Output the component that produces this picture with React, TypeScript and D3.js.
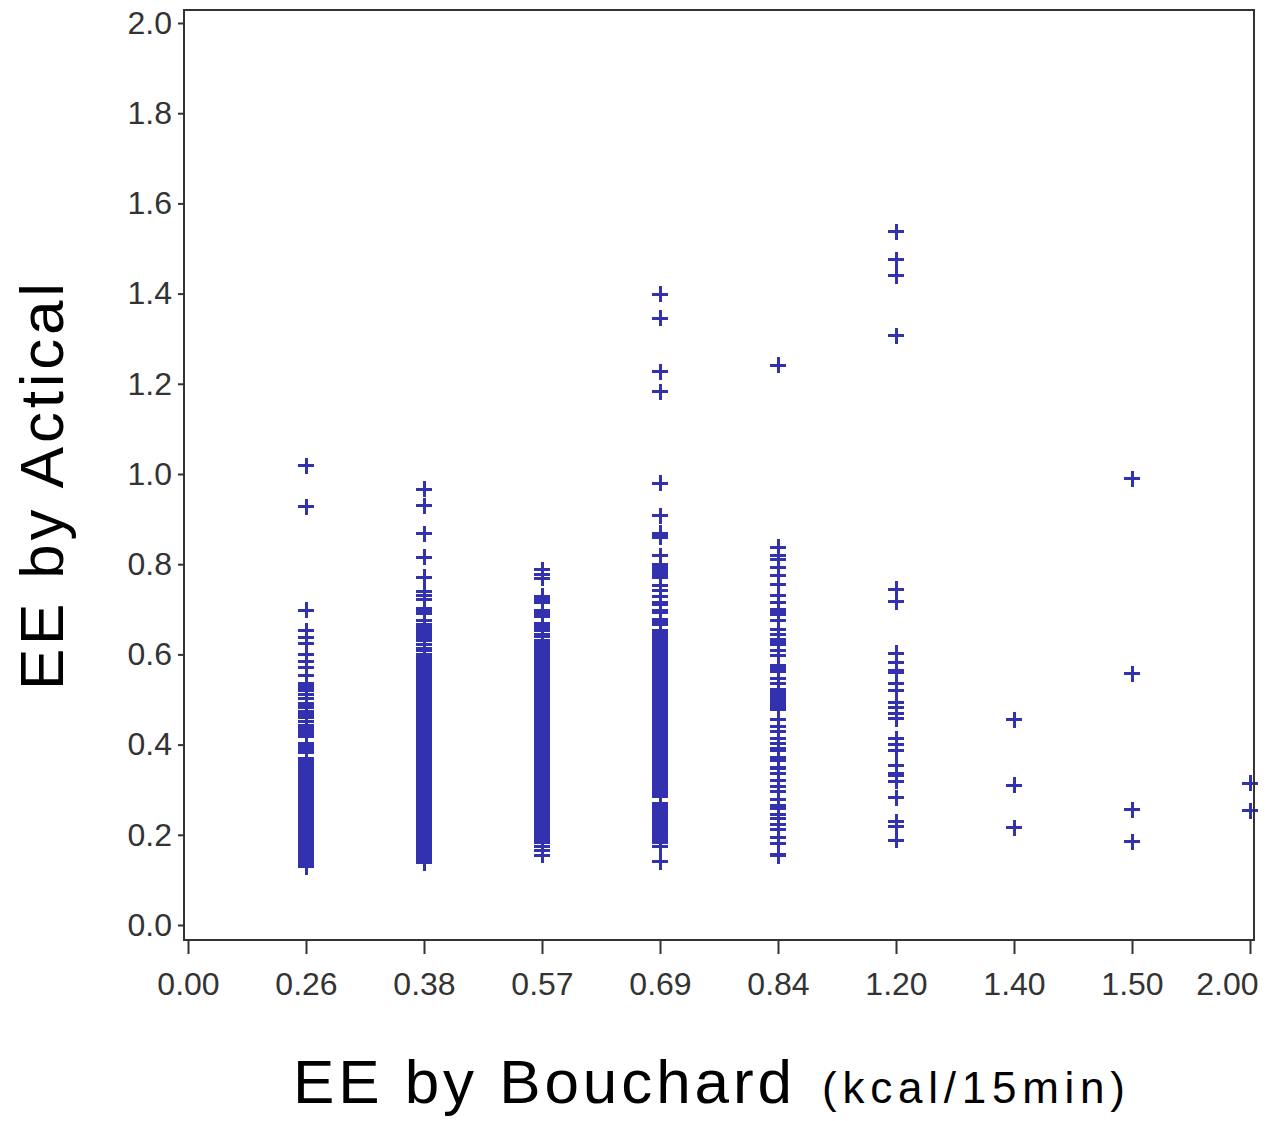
import React, { useEffect, useRef } from "react";
import * as d3 from "d3";

// x categories (EE by Bouchard, kcal/15min)
const categories = ["0.00", "0.26", "0.38", "0.57", "0.69", "0.84", "1.20", "1.40", "1.50", "2.00"];
const yTicks = [0, 0.2, 0.4, 0.6, 0.8, 1.0, 1.2, 1.4, 1.6, 1.8, 2.0];

// EE by Actical, one list per Bouchard category
const ee000: number[] = [];
const ee026 = [
  1.018, 0.927, 0.698, 0.652, 0.638, 0.625, 0.6, 0.584, 0.571, 0.553,
  0.536, 0.531, 0.526, 0.521, 0.519, 0.51, 0.503, 0.492, 0.487, 0.483,
  0.474, 0.467, 0.46, 0.452, 0.443, 0.438, 0.433, 0.428, 0.423, 0.418,
  0.403, 0.398, 0.393, 0.388, 0.383,
  0.369, 0.364, 0.359, 0.354, 0.349, 0.344, 0.339, 0.334, 0.329, 0.324,
  0.319, 0.314, 0.309, 0.304, 0.299, 0.294, 0.289, 0.284, 0.279, 0.274,
  0.269, 0.264, 0.259, 0.254, 0.249, 0.244, 0.239, 0.234, 0.229, 0.224,
  0.219, 0.214, 0.209, 0.204, 0.199, 0.194, 0.189, 0.184, 0.179, 0.174,
  0.169, 0.164, 0.159, 0.154, 0.149, 0.144, 0.139, 0.134, 0.129,
];
const ee038 = [
  0.966, 0.93, 0.868, 0.815, 0.771, 0.739, 0.73, 0.721, 0.701, 0.696,
  0.691, 0.676, 0.666, 0.661, 0.656, 0.651, 0.646, 0.641, 0.636, 0.631,
  0.623, 0.614, 0.609, 0.6,
  0.593, 0.588, 0.583, 0.578, 0.573, 0.568, 0.563, 0.558, 0.553, 0.548,
  0.543, 0.538, 0.533, 0.528, 0.523, 0.518, 0.513, 0.508, 0.503, 0.498,
  0.493, 0.488, 0.483, 0.478, 0.473, 0.468, 0.463, 0.458, 0.453, 0.448,
  0.443, 0.438, 0.433, 0.428, 0.423, 0.418, 0.413, 0.408, 0.403, 0.398,
  0.393, 0.388, 0.383, 0.378, 0.373, 0.368, 0.363, 0.358, 0.353, 0.348,
  0.343, 0.338, 0.333, 0.328, 0.323, 0.318, 0.313, 0.308, 0.303, 0.298,
  0.293, 0.288, 0.283, 0.278, 0.273, 0.268, 0.263, 0.258, 0.253, 0.248,
  0.243, 0.238, 0.233, 0.228, 0.223, 0.218, 0.213, 0.208, 0.203, 0.198,
  0.193, 0.188, 0.183, 0.178, 0.173, 0.168, 0.163, 0.158, 0.153, 0.148,
  0.143, 0.138,
];
const ee057 = [
  0.788, 0.778, 0.769, 0.729, 0.724, 0.719, 0.714, 0.697, 0.692, 0.687,
  0.684, 0.669, 0.664, 0.659, 0.654, 0.645, 0.639,
  0.63, 0.625, 0.62, 0.615, 0.61, 0.605, 0.6, 0.595, 0.59, 0.585,
  0.58, 0.575, 0.57, 0.565, 0.56, 0.555, 0.55, 0.545, 0.54, 0.535,
  0.53, 0.525, 0.52, 0.515, 0.51, 0.505, 0.5, 0.495, 0.49, 0.485,
  0.48, 0.475, 0.47, 0.465, 0.46, 0.455, 0.45, 0.445, 0.44, 0.435,
  0.43, 0.425, 0.42, 0.415, 0.41, 0.405, 0.4, 0.395, 0.39, 0.385,
  0.38, 0.375, 0.37, 0.365, 0.36, 0.355, 0.35, 0.345, 0.34, 0.335,
  0.33, 0.325, 0.32, 0.315, 0.31, 0.305, 0.3, 0.295, 0.29, 0.285,
  0.28, 0.275, 0.27, 0.265, 0.26, 0.255, 0.25, 0.245, 0.24, 0.235,
  0.23, 0.225, 0.22, 0.215, 0.21, 0.205, 0.2, 0.195, 0.19, 0.185,
  0.183, 0.174, 0.165, 0.155,
];
const ee069 = [
  1.399, 1.345, 1.227, 1.182, 0.979, 0.907, 0.869, 0.864, 0.86, 0.819,
  0.799, 0.794, 0.789, 0.784, 0.779, 0.774, 0.771, 0.752, 0.741, 0.729,
  0.715, 0.71, 0.697, 0.692, 0.678, 0.673, 0.668, 0.666,
  0.652, 0.647, 0.642, 0.637, 0.632, 0.627, 0.622, 0.617, 0.612, 0.607,
  0.6,
  0.594, 0.589, 0.584, 0.579, 0.574, 0.569, 0.564, 0.559, 0.554, 0.549,
  0.544, 0.539, 0.534, 0.529, 0.524, 0.519, 0.514, 0.509, 0.504, 0.499,
  0.494, 0.489, 0.484, 0.479, 0.474, 0.469, 0.464, 0.459, 0.454, 0.449,
  0.444, 0.439, 0.434, 0.429, 0.424, 0.419, 0.414, 0.409, 0.404, 0.399,
  0.394, 0.389, 0.384, 0.379, 0.374, 0.369, 0.364, 0.359, 0.354, 0.349,
  0.344, 0.339, 0.334, 0.329, 0.324, 0.319, 0.314, 0.309, 0.304, 0.299,
  0.294, 0.289, 0.284,
  0.27, 0.265, 0.26, 0.255, 0.25, 0.245, 0.24, 0.235, 0.23, 0.225,
  0.22, 0.215, 0.21, 0.205, 0.2, 0.195, 0.19, 0.185, 0.183,
  0.175, 0.14,
];
const ee084 = [
  1.241, 0.838, 0.819, 0.81, 0.793, 0.775, 0.755, 0.73, 0.715, 0.7,
  0.695, 0.69, 0.688, 0.675, 0.655, 0.645, 0.633, 0.628, 0.623, 0.621,
  0.609, 0.598, 0.576, 0.571, 0.566, 0.561, 0.546, 0.535,
  0.522, 0.517, 0.512, 0.507, 0.502, 0.497, 0.492, 0.487, 0.482, 0.477,
  0.456, 0.44, 0.429, 0.413, 0.402, 0.391, 0.386, 0.372, 0.367, 0.365,
  0.349, 0.346, 0.335, 0.32, 0.308, 0.297, 0.279, 0.265, 0.26, 0.258,
  0.245, 0.236, 0.223, 0.212, 0.193, 0.18, 0.157, 0.153,
];
const ee120 = [
  1.537, 1.475, 1.44, 1.307, 0.744, 0.717, 0.602, 0.583, 0.564, 0.56,
  0.535, 0.519, 0.493, 0.482, 0.47, 0.457, 0.413, 0.4, 0.388, 0.353,
  0.335, 0.332, 0.319, 0.282, 0.229, 0.218, 0.188,
];
const ee140 = [0.455, 0.31, 0.216];
const ee150 = [0.99, 0.557, 0.255, 0.185];
const ee200 = [0.314, 0.253];

const valuesByCategory = [ee000, ee026, ee038, ee057, ee069, ee084, ee120, ee140, ee150, ee200];

const points = categories.flatMap((c, i) => valuesByCategory[i].map((v) => ({ c, v })));

const W = 1266;
const H = 1121;
const font = "'Liberation Sans', Arial, sans-serif";

export default function App() {
  const ref = useRef<SVGSVGElement>(null);

  useEffect(() => {
    const svg = d3.select(ref.current);
    svg.selectAll("*").remove();

    const x = d3.scalePoint<string>().domain(categories).range([188, 1250]);
    const y = d3.scaleLinear().domain([0, 2]).range([925, 23]);

    svg.append("rect").attr("width", W).attr("height", H).attr("fill", "#fff");

    // plus markers
    svg
      .append("g")
      .attr("shape-rendering", "crispEdges")
      .selectAll("path")
      .data(points)
      .join("path")
      .attr("transform", (d) => `translate(${Math.round(x(d.c) ?? 0)},${y(d.v)})`)
      .attr("d", "M-8,0H8M0,-8V8")
      .attr("fill", "none")
      .attr("stroke", "#3232b0")
      .attr("stroke-width", 3);

    // frame
    svg
      .append("rect")
      .attr("x", 184)
      .attr("y", 10)
      .attr("width", 1070)
      .attr("height", 930)
      .attr("fill", "none")
      .attr("stroke", "#333")
      .attr("stroke-width", 2);

    const yAxis = svg
      .append("g")
      .attr("transform", "translate(184,0)")
      .call(
        d3
          .axisLeft(y)
          .tickValues(yTicks)
          .tickSize(6)
          .tickPadding(6)
          .tickFormat(d3.format(".1f"))
      );

    const xAxis = svg
      .append("g")
      .attr("transform", "translate(0,940)")
      .call(d3.axisBottom(x).tickSize(14).tickPadding(18));

    [yAxis, xAxis].forEach((g) => {
      g.select(".domain").remove();
      g.selectAll(".tick line").attr("stroke", "#333").attr("stroke-width", 2);
      g.selectAll(".tick text")
        .attr("fill", "#333")
        .attr("font-size", 32)
        .attr("font-family", font);
    });

    // last x label sits inside the page edge
    xAxis
      .selectAll<SVGTextElement, string>(".tick text")
      .filter((d) => d === categories[categories.length - 1])
      .attr("text-anchor", "end")
      .attr("x", 8);

    // axis titles
    const xTitle = svg
      .append("text")
      .attr("y", 1103)
      .attr("font-family", font)
      .attr("fill", "#000");
    xTitle
      .append("tspan")
      .attr("x", 293)
      .attr("font-size", 62)
      .attr("textLength", 499)
      .attr("lengthAdjust", "spacing")
      .text("EE by Bouchard");
    xTitle
      .append("tspan")
      .attr("x", 822)
      .attr("font-size", 44)
      .attr("textLength", 303)
      .attr("lengthAdjust", "spacing")
      .text("(kcal/15min)");

    svg
      .append("text")
      .attr("transform", "translate(63,690) rotate(-90)")
      .attr("font-family", font)
      .attr("font-size", 62)
      .attr("fill", "#000")
      .attr("textLength", 407)
      .attr("lengthAdjust", "spacing")
      .text("EE by Actical");
  }, []);

  return (
    <svg
      ref={ref}
      width={W}
      height={H}
      style={{ position: "absolute", left: 0, top: 0 }}
    ></svg>
  );
}
